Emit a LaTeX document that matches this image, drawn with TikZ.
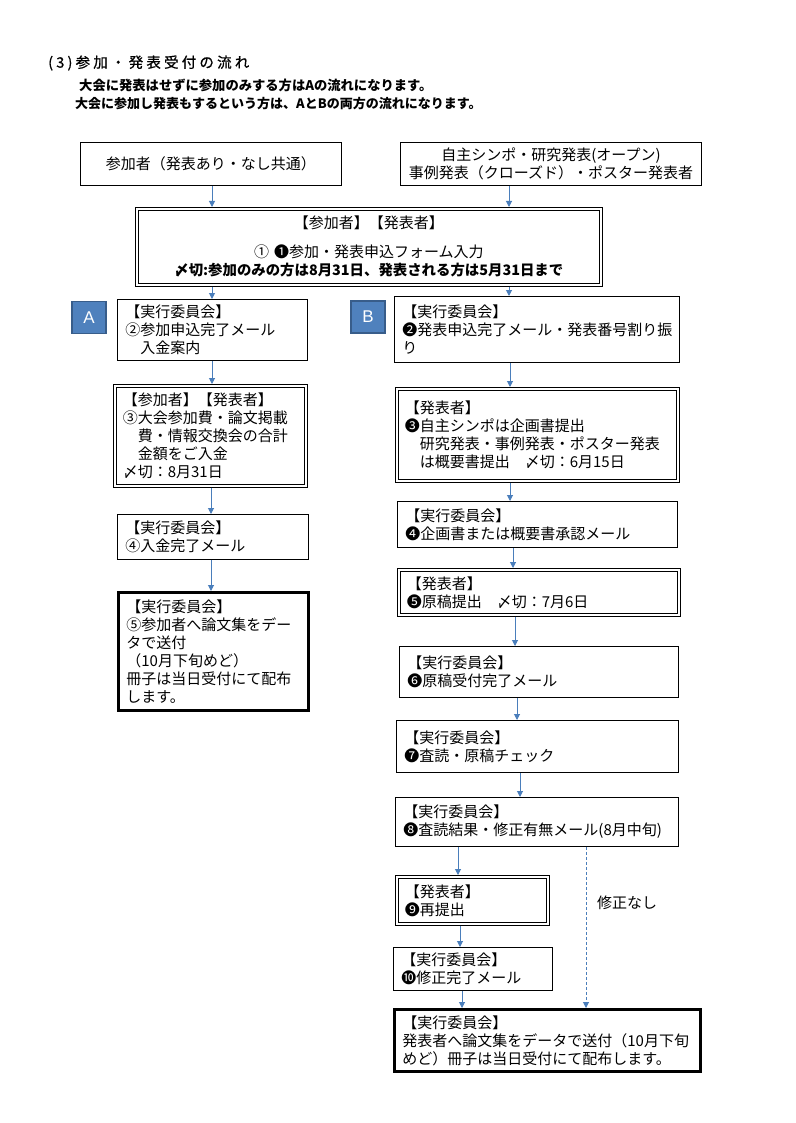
\documentclass[tikz,border=0pt]{standalone}
\usepackage{fontspec}
\setmainfont{Noto Sans CJK JP}
\newfontfamily\titlefont{Noto Sans CJK JP}[LetterSpace=22, FakeBold=0.8]
\newfontfamily\labfont{Liberation Sans}
\usetikzlibrary{arrows.meta}
\definecolor{arrowblue}{RGB}{74,126,187}
\definecolor{labfill}{RGB}{79,129,189}
\definecolor{labedge}{RGB}{56,93,138}
\newcommand\bxfont{\fontsize{15}{18}\selectfont}
\begin{document}
\begin{tikzpicture}[x=1pt,y=-1pt,
  box/.style={draw, line width=0.9pt, anchor=north west, align=left, inner xsep=8pt, inner ysep=2pt, font=\bxfont},
  dbox/.style={box, double, line width=0.9pt, double distance=1.8pt, outer sep=1.8pt},
  tbox/.style={box, line width=2.8pt, outer sep=1.4pt},
  arr/.style={draw=arrowblue, line width=1pt, -{Triangle[length=6pt,width=6pt]}},
  dasharr/.style={arr, dash pattern=on 3pt off 2pt},
  lab/.style={fill=labfill, draw=labedge, line width=1.5pt, minimum width=34pt, minimum height=32pt, inner sep=0pt, text=white, font=\labfont\fontsize{17}{17}\selectfont},
  head/.style={anchor=west, inner sep=0pt}]
\useasboundingbox (0,0) rectangle (795,1123);

% header
\node[head, font=\titlefont\fontsize{14.5}{14.5}\selectfont] (T) at (48,63) {(3)参加・発表受付の流れ};
\node[head, font=\bfseries\fontsize{13.3}{13.3}\selectfont] (H1) at (79,85) {大会に発表はせずに参加のみする方はAの流れになります。};
\node[head, font=\bfseries\fontsize{13}{13}\selectfont] (H2) at (75,104) {大会に参加し発表もするという方は、AとBの両方の流れになります。};

% top
\node[box, align=center, text width=245pt, minimum height=43pt] (P) at (80,142) {参加者（発表あり・なし共通）};
\node[box, align=center, text width=285pt, minimum height=43pt] (Q) at (400,142) {自主シンポ・研究発表(オープン)\\事例発表（クローズド）・ポスター発表者};
\node[dbox, align=center, text width=448pt, minimum height=76pt] (R) at (135,207) {【参加者】【発表者】\\[11pt]①\hspace{5pt}❶参加・発表申込フォーム入力\\{\bfseries\fontsize{14.4}{18}\selectfont 〆切:参加のみの方は8月31日、発表される方は5月31日まで}};

% labels
\node[lab] (LA) at (89,317.5) {A};
\node[lab] (LB) at (368,317) {B};

% column A
\node[box, text width=174pt, minimum height=61pt] (A2) at (117,299) {【実行委員会】\\②参加申込完了メール\\　入金案内};
\node[dbox, text width=175pt, minimum height=100pt] (A3) at (113,384) {【参加者】【発表者】\\③大会参加費・論文掲載\\　費・情報交換会の合計\\　金額をご入金\\〆切：8月31日};
\node[box, text width=175pt, minimum height=45pt] (A4) at (117,514) {【実行委員会】\\④入金完了メール};
\node[tbox, text width=174pt, minimum height=118pt] (A5) at (117,591) {【実行委員会】\\⑤参加者へ論文集をデー\\タで送付\\（10月下旬めど）\\冊子は当日受付にて配布\\します。};

% column B
\node[box, text width=269pt, minimum height=66pt] (B2) at (394,296) {【実行委員会】\\❷発表申込完了メール・発表番号割り振\\り};
\node[dbox, text width=265pt, minimum height=92pt] (B3) at (395,387) {【発表者】\\❸自主シンポは企画書提出\\　研究発表・事例発表・ポスター発表\\　は概要書提出　〆切：6月15日};
\node[box, text width=264pt, minimum height=46pt] (B4) at (397,501) {【実行委員会】\\❹企画書または概要書承認メール};
\node[dbox, text width=264pt, minimum height=45pt] (B5) at (397,568) {【発表者】\\❺原稿提出　〆切：7月6日};
\node[box, text width=263pt, minimum height=51pt] (B6) at (399,646) {【実行委員会】\\❻原稿受付完了メール};
\node[box, text width=266pt, minimum height=52pt] (B7) at (396,720) {【実行委員会】\\❼査読・原稿チェック};
\node[box, text width=267pt, minimum height=49pt] (B8) at (395,797) {【実行委員会】\\❽査読結果・修正有無メール(8月中旬)};
\node[dbox, text width=135pt, minimum height=47pt] (B9) at (395,875) {【発表者】\\❾再提出};
\node[box, text width=143pt, minimum height=43pt] (B10) at (393,947) {【実行委員会】\\❿修正完了メール};
\node[tbox, text width=290pt, minimum height=62pt] (B11) at (393,1008) {【実行委員会】\\発表者へ論文集をデータで送付（10月下旬\\めど）冊子は当日受付にて配布します。};
\node[head, font=\bxfont] (NF) at (597,903) {修正なし};

% arrow columns
\coordinate (xa) at (212,0);
\coordinate (xb) at (509,0);
\coordinate (xc) at (211,0);
\coordinate (xd) at (510,0);
\coordinate (xe) at (513,0);
\coordinate (xf) at (515,0);
\coordinate (xg) at (517,0);
\coordinate (xh) at (520,0);
\coordinate (xi) at (458,0);
\coordinate (xj) at (460,0);
\coordinate (xk) at (462,0);
\coordinate (xl) at (586,0);

\draw[arr] (P.south -| xa) -- (R.north -| xa);
\draw[arr] (Q.south -| xb) -- (R.north -| xb);
\draw[arr] (R.south -| xa) -- (A2.north -| xa);
\draw[arr] (R.south -| xb) -- (B2.north -| xb);
\draw[arr] (A2.south -| xa) -- (A3.north -| xa);
\draw[arr] (A3.south -| xc) -- (A4.north -| xc);
\draw[arr] (A4.south -| xc) -- (A5.north -| xc);
\draw[arr] (B2.south -| xd) -- (B3.north -| xd);
\draw[arr] (B3.south -| xd) -- (B4.north -| xd);
\draw[arr] (B4.south -| xe) -- (B5.north -| xe);
\draw[arr] (B5.south -| xf) -- (B6.north -| xf);
\draw[arr] (B6.south -| xg) -- (B7.north -| xg);
\draw[arr] (B7.south -| xh) -- (B8.north -| xh);
\draw[arr] (B8.south -| xi) -- (B9.north -| xi);
\draw[arr] (B9.south -| xj) -- (B10.north -| xj);
\draw[arr] (B10.south -| xk) -- (B11.north -| xk);
\draw[dasharr] (B8.south -| xl) -- (B11.north -| xl);
\end{tikzpicture}
\end{document}
